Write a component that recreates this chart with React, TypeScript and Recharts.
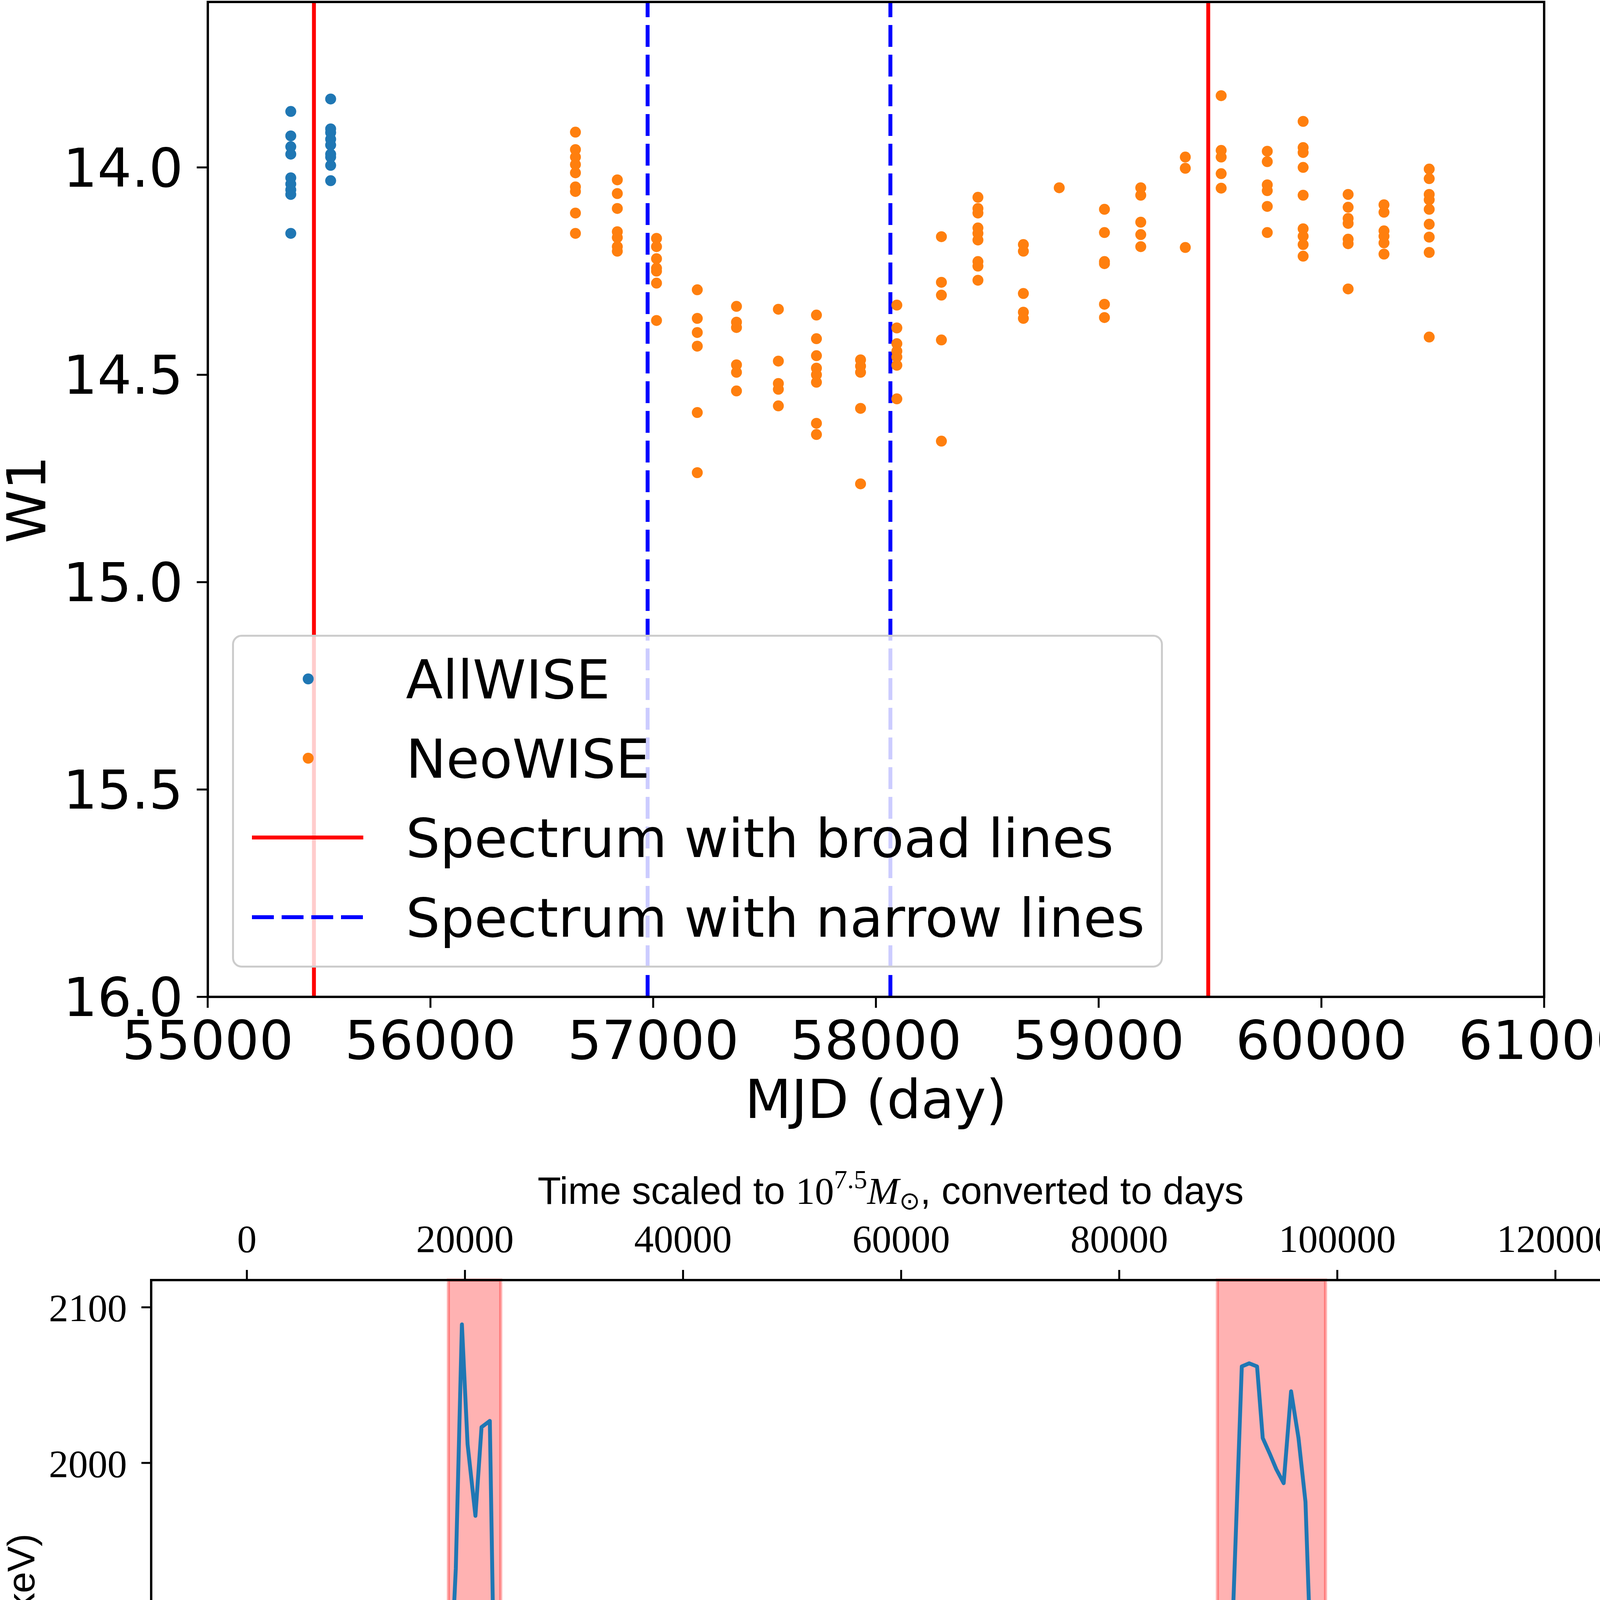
import {
  ScatterChart,
  Scatter,
  LineChart,
  Line,
  XAxis,
  YAxis,
  ReferenceLine,
  ReferenceArea,
} from 'recharts';

// ---- top panel: WISE W1 light curve ----
const ALLWISE_MJD = [55373, 55552];
const ALLWISE_W1 = [
  [13.865, 13.924, 13.95, 13.968, 14.025, 14.04, 14.054, 14.065, 14.159],
  [13.835, 13.907, 13.916, 13.932, 13.946, 13.968, 13.975, 13.995, 14.032],
];

const NEOWISE_MJD = [
  56651, 56839, 57015, 57198, 57374, 57562, 57733, 57931, 58094, 58294, 58458,
  58662, 58823, 59026, 59189, 59389, 59550, 59757, 59918, 60120, 60281, 60484,
];
const NEOWISE_W1 = [
  [13.915, 13.957, 13.975, 13.993, 14.013, 14.047, 14.058, 14.11, 14.159],
  [14.03, 14.063, 14.099, 14.155, 14.169, 14.191, 14.202],
  [14.171, 14.191, 14.22, 14.243, 14.25, 14.279, 14.369],
  [14.295, 14.364, 14.398, 14.431, 14.591, 14.736],
  [14.335, 14.373, 14.386, 14.476, 14.494, 14.539],
  [14.342, 14.467, 14.521, 14.535, 14.575],
  [14.356, 14.413, 14.454, 14.484, 14.5, 14.518, 14.617, 14.644],
  [14.464, 14.479, 14.494, 14.581, 14.763],
  [14.332, 14.387, 14.425, 14.443, 14.457, 14.477, 14.558],
  [14.167, 14.277, 14.308, 14.416, 14.66],
  [14.072, 14.099, 14.11, 14.146, 14.159, 14.175, 14.227, 14.238, 14.272],
  [14.186, 14.202, 14.304, 14.349, 14.364],
  [14.049],
  [14.101, 14.157, 14.227, 14.232, 14.33, 14.362],
  [14.049, 14.067, 14.132, 14.162, 14.191],
  [13.975, 14.002, 14.193],
  [13.827, 13.959, 13.975, 14.015, 14.05],
  [13.961, 13.986, 14.042, 14.056, 14.094, 14.157],
  [13.889, 13.952, 13.964, 14.0, 14.067, 14.148, 14.166, 14.186, 14.214],
  [14.065, 14.096, 14.123, 14.135, 14.173, 14.184, 14.293],
  [14.09, 14.108, 14.153, 14.166, 14.182, 14.209],
  [14.004, 14.027, 14.065, 14.078, 14.101, 14.137, 14.168, 14.205, 14.409],
];

const BROAD_LINE_MJD = [55477, 59492];
const NARROW_LINE_MJD = [56975, 58065];

const MJD_TICKS = [55000, 56000, 57000, 58000, 59000, 60000, 61000];
const W1_TICKS = [14, 14.5, 15, 15.5, 16];

// ---- bottom panel: RXTE count rate ----
const LC_TIME = [
  2927, 2948, 2965, 2980, 2999, 3013, 3025, 3044, 3060, 3075, 3092, 3108, 3137, 3161, 3173,
  3188, 3204, 3221, 3236, 3251, 3269, 3284, 3299, 3313, 3332, 3351, 3365, 3382, 3395, 3412,
  3447, 3462, 3479, 3493, 3506, 3524, 3538, 3557, 3569, 3587, 3603, 3622, 3642, 3668, 3683,
  3699, 3716, 3731, 3750, 3767, 3779, 3795, 3812, 3827, 3843, 3860, 3875, 3891, 3908, 3925,
  3940, 3954,
  3971, 3988, 4007, 4020, 4037, 4052, 4066, 4083, 4100, 4117, 4133, 4151, 4165, 4180, 4194,
  4212, 4228, 4246, 4261, 4276, 4293, 4306, 4323, 4342, 4355, 4372, 4388, 4402, 4419, 4436,
  4453, 4468, 4481,
  4531, 4548, 4564, 4577, 4595, 4611, 4628, 4642, 4661, 4678, 4693, 4707, 4722, 4739, 4755,
  4772, 4784, 4805, 4819, 4833, 4851, 4871, 4882, 4898, 4914, 4930, 4948, 4964, 4978, 4992,
  5010, 5027, 5043, 5058, 5074, 5091, 5106, 5122, 5139, 5155, 5172, 5185, 5204, 5220, 5233,
  5252, 5267, 5281, 5298, 5316, 5329, 5345, 5360, 5377, 5394, 5411, 5427, 5442, 5458, 5477,
  5490, 5506,
  5521, 5540, 5557, 5569, 5586, 5602, 5621, 5635, 5648, 5667, 5682, 5699, 5713, 5730, 5746,
  5762, 5778, 5795, 5810, 5826, 5840, 5857, 5874, 5890, 5903, 5919, 5938, 5953, 5967, 5984,
  6003, 6020,
];
const LC_RATE = [
  1737, 1748, 1735, 1795, 1788, 1771, 1685, 1669, 1693, 1704, 1700, 1791, 1849, 1861, 1887,
  1805, 1782, 1798, 1789, 1836, 1823, 1698, 1757, 1771, 1776, 1767, 1694, 1715, 1754, 1693,
  1763, 1831, 1932, 2089, 2012, 1966, 2023, 2027, 1821, 1809, 1860, 1856, 1771, 1667, 1684,
  1691, 1678, 1654, 1661, 1669, 1754, 1717, 1703, 1739, 1705, 1733, 1671, 1667, 1676, 1672,
  1671, 1701,
  1709, 1626, 1630, 1675, 1679, 1687, 1647, 1629, 1588, 1612, 1669, 1680, 1705, 1741, 1689,
  1684, 1604, 1606, 1615, 1627, 1623, 1717, 1734, 1729, 1695, 1621, 1697, 1758, 1765, 1707,
  1767, 1879, 1791,
  1612, 1694, 1632, 1717, 1778, 1759, 1761, 1698, 1702, 1700, 1699, 1641, 1658, 1658, 1649,
  1661, 1746, 1748, 1821, 1773, 1776, 1763, 1692, 1697, 1685, 1707, 1735, 1704, 1681, 1711,
  1721, 1811, 1815, 1824, 1724, 1744, 1674, 1711, 1699, 1651, 1642, 1690, 1685, 1771, 1873,
  1835, 1952, 2062, 2064, 2062, 2016, 2006, 1996, 1987, 2046, 2016, 1975, 1852, 1883, 1872,
  1803, 1802,
  1575, 1595, 1633, 1707, 1733, 1675, 1678, 1739, 1780, 1781, 1831, 1779, 1677, 1711, 1685,
  1660, 1673, 1661, 1623, 1661, 1679, 1711, 1699, 1755, 1675, 1634, 1620, 1657, 1646, 1644,
  1641, 1497,
];
const QPO_SPANS = [
  [3462, 3582],
  [5225, 5473],
];
const TIME_TICKS = [3000, 3500, 4000, 4500, 5000, 5500, 6000];
const RATE_TICKS = [1500, 1600, 1700, 1800, 1900, 2000, 2100];
const TIME_ZERO = 3000;
const DAYS_PER_SEC = 40;

const allwisePoints = ALLWISE_MJD.flatMap((mjd, i) => ALLWISE_W1[i].map((w1) => ({ mjd, w1 })));
const neowisePoints = NEOWISE_MJD.flatMap((mjd, i) => NEOWISE_W1[i].map((w1) => ({ mjd, w1 })));
const lcData = LC_TIME.map((t, i) => ({ t, rate: LC_RATE[i] }));

const SANS_TOP = 'DejaVu Sans';
const SERIF = '"Liberation Serif", serif';
const SANS = '"Liberation Sans", sans-serif';
const BLUE = '#1f77b4';
const ORANGE = '#ff7f0e';

const W = 4180;
const TOP_H = 2940;
const BOT_H = 6142 - TOP_H;

const dot = (color: string) => (p: any) => <circle cx={p.cx} cy={p.cy} r={14} fill={color} />;

const TopLegend = () => (
  <svg
    width={2383}
    height={852}
    style={{ position: 'absolute', left: 594, top: 1625, pointerEvents: 'none' }}
  >
    <rect x={2.5} y={2.5} width={2378} height={847} rx={22} fill="#fff" fillOpacity={0.8} stroke="#cccccc" strokeWidth={5} />
    <circle cx={195} cy={113} r={14} fill={BLUE} />
    <circle cx={195} cy={316} r={14} fill={ORANGE} />
    <line x1={51} x2={336} y1={519} y2={519} stroke="#ff0000" strokeWidth={10} />
    <line x1={51} x2={336} y1={723} y2={723} stroke="#0000ff" strokeWidth={10} strokeDasharray="56 20" />
    {['AllWISE', 'NeoWISE', 'Spectrum with broad lines', 'Spectrum with narrow lines'].map((s, i) => (
      <text key={s} x={445} y={[113, 316, 519, 723][i] + 50} fontFamily={SANS_TOP} fontSize={138} fill="#000">
        {s}
      </text>
    ))}
  </svg>
);

const BottomLegend = () => (
  <svg
    width={1025}
    height={165}
    style={{ position: 'absolute', left: 1765, top: 5632, pointerEvents: 'none' }}
  >
    <rect x={2.5} y={2.5} width={1020} height={160} rx={16} fill="#fff" fillOpacity={0.8} stroke="#cccccc" strokeWidth={5} />
    <rect x={42} y={44} width={209} height={72} fill="#ff0000" fillOpacity={0.3} stroke="#ff0000" strokeOpacity={0.3} strokeWidth={8} />
    <text x={331} y={114} fontFamily={SANS} fontSize={98} fill="#000">
      QPO w/o noise
    </text>
  </svg>
);

const Frame = ({ left, top, width, height }: { left: number; top: number; width: number; height: number }) => (
  <div
    style={{
      position: 'absolute',
      left: left - 3,
      top: top - 3,
      width: width + 6,
      height: height + 6,
      border: '6px solid #000',
      boxSizing: 'border-box',
      pointerEvents: 'none',
    }}
  />
);

const WiseChart = () => (
  <div style={{ position: 'absolute', left: 0, top: 0, width: W, height: TOP_H }}>
    <ScatterChart width={W} height={TOP_H} margin={{ top: 5, right: 227, bottom: 0, left: 0 }}>
      <XAxis
        type="number"
        dataKey="mjd"
        domain={[55000, 61000]}
        ticks={MJD_TICKS}
        interval={0}
        allowDataOverflow
        height={388}
        axisLine={false}
        tickSize={28}
        tickMargin={33}
        tickLine={{ stroke: '#000', strokeWidth: 5 }}
        tick={{ fill: '#000', fontSize: 138, fontFamily: SANS_TOP }}
        label={{
          content: () => (
            <text x={(531.7 + 3953) / 2} y={2862} textAnchor="middle" fontFamily={SANS_TOP} fontSize={138} fill="#000">
              MJD (day)
            </text>
          ),
        }}
      />
      <YAxis
        type="number"
        dataKey="w1"
        domain={[13.601, 16]}
        reversed
        ticks={W1_TICKS}
        interval={0}
        allowDataOverflow
        width={531.7}
        axisLine={false}
        tickSize={28}
        tickMargin={35}
        tickLine={{ stroke: '#000', strokeWidth: 5 }}
        tick={{ fill: '#000', fontSize: 138, fontFamily: SANS_TOP }}
        tickFormatter={(v: number) => v.toFixed(1)}
        label={{
          content: () => (
            <text
              transform={`translate(66, ${(5 + 2552) / 2}) rotate(-90)`}
              textAnchor="middle"
              dy="0.36em"
              fontFamily={SANS_TOP}
              fontSize={138}
              fill="#000"
            >
              W1
            </text>
          ),
        }}
      />
      {BROAD_LINE_MJD.map((x) => (
        <ReferenceLine key={`b${x}`} x={x} stroke="#ff0000" strokeWidth={10} />
      ))}
      {NARROW_LINE_MJD.map((x) => (
        <ReferenceLine key={`n${x}`} x={x} stroke="#0000ff" strokeWidth={10} strokeDasharray="56 20" />
      ))}
      <Scatter name="AllWISE" data={allwisePoints} shape={dot(BLUE)} isAnimationActive={false} />
      <Scatter name="NeoWISE" data={neowisePoints} shape={dot(ORANGE)} isAnimationActive={false} />
    </ScatterChart>
  </div>
);

const TopTitle = () => (
  <text x={(387 + 4173) / 2} y={142} textAnchor="middle" fontSize={98} fill="#000">
    <tspan fontFamily={SANS}>{'Time scaled to '}</tspan>
    <tspan fontFamily={SERIF}>10</tspan>
    <tspan fontFamily={SERIF} fontSize={68} dy={-40}>
      7.5
    </tspan>
    <tspan fontFamily={SERIF} fontStyle="italic" dy={40}>
      M
    </tspan>
    <tspan fontFamily={SERIF} fontSize={64} dy={14}>
      ⊙
    </tspan>
    <tspan fontFamily={SANS} dy={-14}>
      {', converted to days'}
    </tspan>
  </text>
);

const LightCurveChart = () => (
  <div style={{ position: 'absolute', left: 0, top: TOP_H, width: W, height: BOT_H }}>
    <LineChart width={W} height={BOT_H} data={lcData} margin={{ top: 0, right: 7, bottom: 0, left: 0 }}>
      <XAxis
        xAxisId="bottom"
        type="number"
        dataKey="t"
        domain={[2780.6, 6171.2]}
        ticks={TIME_TICKS}
        interval={0}
        allowDataOverflow
        height={276}
        axisLine={false}
        tickSize={27}
        tickMargin={26}
        tickLine={{ stroke: '#000', strokeWidth: 5 }}
        tick={{ fill: '#000', fontSize: 100, fontFamily: SERIF }}
        label={{
          content: () => (
            <g>
              <text x={(387 + 4173) / 2} y={3176} textAnchor="middle" fontFamily={SANS} fontSize={98} fill="#000">
                Time (sec)
              </text>
              <text x={4164} y={3164} textAnchor="end" fontFamily={SERIF} fontSize={100} fill="#000">
                {'+1.8277\u2002×\u200210'}
                <tspan fontSize={70} dy={-42}>
                  8
                </tspan>
              </text>
            </g>
          ),
        }}
      />
      <XAxis
        xAxisId="top"
        orientation="top"
        type="number"
        dataKey="t"
        domain={[2780.6, 6171.2]}
        ticks={TIME_TICKS}
        interval={0}
        allowDataOverflow
        height={337}
        axisLine={false}
        tickSize={26}
        tickMargin={46}
        tickLine={{ stroke: '#000', strokeWidth: 5 }}
        tick={{ fill: '#000', fontSize: 100, fontFamily: SERIF }}
        tickFormatter={(v: number) => String(Math.round((v - TIME_ZERO) * DAYS_PER_SEC))}
        label={{ content: () => <TopTitle /> }}
      />
      <YAxis
        yAxisId="left"
        type="number"
        domain={[1467.6, 2117.5]}
        ticks={RATE_TICKS}
        interval={0}
        allowDataOverflow
        width={387}
        axisLine={false}
        tickSize={25}
        tickMargin={37}
        tickLine={{ stroke: '#000', strokeWidth: 5 }}
        tick={{ fill: '#000', fontSize: 100, fontFamily: SERIF }}
        label={{
          content: () => (
            <text
              transform={`translate(53, ${(337 + 2926) / 2}) rotate(-90)`}
              textAnchor="middle"
              dy="0.36em"
              fontFamily={SANS}
              fontSize={98}
              fill="#000"
            >
              Count rate per PCU (2-9 keV)
            </text>
          ),
        }}
      />
      {QPO_SPANS.map(([a, b]) => (
        <ReferenceArea
          key={a}
          xAxisId="bottom"
          yAxisId="left"
          x1={a}
          x2={b}
          fill="#ff0000"
          fillOpacity={0.3}
          stroke="#ff0000"
          strokeOpacity={0.3}
          strokeWidth={8}
        />
      ))}
      <Line
        xAxisId="top"
        yAxisId="left"
        dataKey="rate"
        stroke="none"
        dot={false}
        activeDot={false}
        isAnimationActive={false}
      />
      <Line
        xAxisId="bottom"
        yAxisId="left"
        type="linear"
        dataKey="rate"
        stroke={BLUE}
        strokeWidth={10}
        strokeLinejoin="round"
        dot={false}
        activeDot={false}
        isAnimationActive={false}
      />
    </LineChart>
  </div>
);

export default function App() {
  return (
    <div
      style={{
        position: 'absolute',
        left: 0,
        top: 0,
        width: W,
        height: 6142,
        background: '#fff',
        overflow: 'hidden',
      }}
    >
      <WiseChart />
      <Frame left={531.7} top={5} width={3953 - 531.7} height={2552 - 5} />
      <TopLegend />
      <LightCurveChart />
      <Frame left={387} top={3277} width={4173 - 387} height={5866 - 3277} />
      <BottomLegend />
    </div>
  );
}
